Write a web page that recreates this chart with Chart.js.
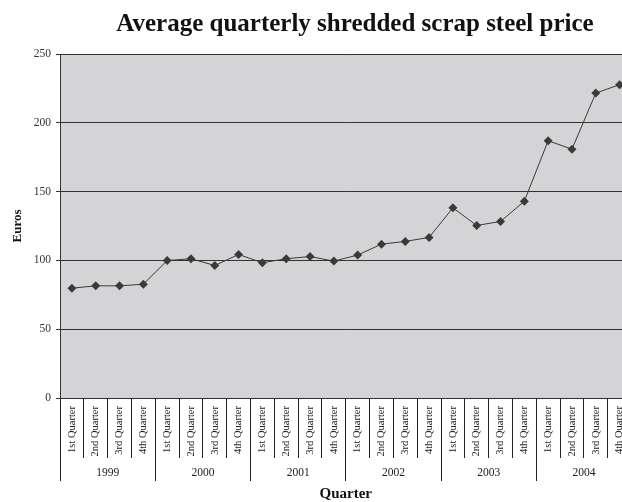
<!DOCTYPE html>
<html>
<head>
<meta charset="utf-8">
<script src="https://cdn.jsdelivr.net/npm/chart.js@4/dist/chart.umd.min.js"></script>
<style>
  html, body { margin: 0; padding: 0; background: #fff; overflow: hidden; }
  #wrap { position: relative; width: 622px; height: 502px; overflow: hidden; }
  #title {
    position: absolute; left: 0; top: 9px; width: 710px;
    text-align: center; font: bold 25px/28px "Liberation Serif", serif; color: #111;
  }
  canvas { position: absolute; left: 0; top: 0; }
</style>
</head>
<body>
<div id="wrap">
  <canvas id="scrapChart" width="636" height="502"></canvas>
  <div id="title">Average quarterly shredded scrap steel price</div>
</div>
<script>
// quarter names and years used for the two-level x axis
const quarterNames = ["1st Quarter", "2nd Quarter", "3rd Quarter", "4th Quarter"];
const years = ["1999", "2000", "2001", "2002", "2003", "2004"];

// average price per quarter in euros, 1999 Q1 .. 2004 Q4
const prices = [
  79.8, 81.5, 81.5, 82.7,
  99.9, 101.2, 96.3, 104.3,
  98.3, 101.2, 102.8, 99.5,
  103.9, 111.8, 113.8, 116.7,
  138.2, 125.4, 128.3, 143,
  187, 180.8, 221.6, 227.7
];

const yTicks = [0, 50, 100, 150, 200, 250];

// one label per quarter, repeated for each year
const quarterLabels = [];
years.forEach(() => quarterNames.forEach(q => quarterLabels.push(q)));

// fills the plot area with the grey background
const plotBackground = {
  id: "plotBackground",
  beforeDraw(chart) {
    const { ctx, chartArea } = chart;
    ctx.save();
    ctx.fillStyle = "#d4d4d6";
    ctx.fillRect(chartArea.left, chartArea.top, chartArea.width, chartArea.height);
    ctx.restore();
  }
};

const serif = "'Liberation Serif', 'Times New Roman', serif";

new Chart(document.querySelector("#scrapChart"), {
  type: "line",
  data: {
    labels: quarterLabels,
    datasets: [{
      label: "Euros",
      data: prices,
      borderColor: "#3a3a3a",
      borderWidth: 1,
      pointStyle: "rectRot",
      pointRadius: 4.5,
      pointBackgroundColor: "#3a3a3a",
      pointBorderColor: "#3a3a3a",
      pointBorderWidth: 0,
      tension: 0
    }]
  },
  options: {
    responsive: false,
    animation: false,
    devicePixelRatio: 1,
    layout: { padding: { top: 54, left: 0, right: 0, bottom: 0 } },
    plugins: {
      legend: { display: false },
      tooltip: { enabled: false },
      title: { display: false }
    },
    scales: {
      y: {
        min: 0,
        max: 250,
        afterBuildTicks: axis => { axis.ticks = yTicks.map(v => ({ value: v })); },
        afterFit: axis => { axis.width = 60; },
        grid: { color: "#333", lineWidth: 1, tickLength: 4 },
        border: { color: "#333", width: 1 },
        ticks: { color: "#333", padding: 5, font: { family: serif, size: 11.5 } },
        title: {
          display: true,
          text: "Euros",
          color: "#111",
          padding: { top: 10, bottom: 0 },
          font: { family: serif, size: 13, weight: "bold" }
        }
      },
      x: {
        type: "category",
        offset: true,
        weight: 0,
        afterFit: axis => { axis.height = 60; },
        grid: { offset: true, drawOnChartArea: false, color: "#222", tickLength: 60 },
        border: { color: "#333", width: 1 },
        ticks: {
          autoSkip: false,
          minRotation: 90,
          maxRotation: 90,
          padding: -52,
          color: "#222",
          font: { family: serif, size: 10.5 }
        }
      },
      x2: {
        type: "category",
        position: "bottom",
        labels: years,
        offset: true,
        weight: 1,
        afterFit: axis => { axis.height = 44; },
        grid: { offset: true, drawOnChartArea: false, color: "#222", tickLength: 23 },
        border: { display: false },
        ticks: { padding: -15, color: "#222", font: { family: serif, size: 11.5 } },
        title: {
          display: true,
          text: "Quarter",
          color: "#111",
          padding: { top: 0, bottom: 0 },
          font: { family: serif, size: 15, weight: "bold", lineHeight: 1 }
        }
      }
    }
  },
  plugins: [plotBackground]
});
</script>
</body>
</html>
